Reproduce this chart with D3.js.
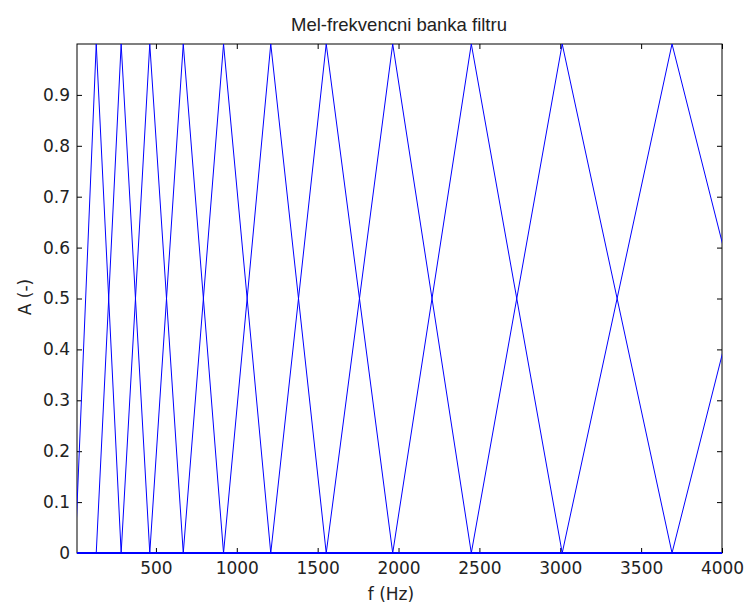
<!doctype html>
<html>
<head>
	<meta charset="utf-8">
	<title>Mel-frekvencni banka filtru</title>
	<style>
		body { margin: 0; background: #fff; }
	</style>
</head>
<body>

<svg width="745" height="606"></svg>
<script src="https://d3js.org/d3.v7.min.js"></script>
<script>
// filter edge / centre frequencies (Hz)
var centers = [0, 131, 285, 462, 669, 918, 1210, 1553, 1964, 2450, 3012, 3691, 4486, 5400];
var xTicks = [500, 1000, 1500, 2000, 2500, 3000, 3500, 4000];
var yTicks = [0, 0.1, 0.2, 0.3, 0.4, 0.5, 0.6, 0.7, 0.8, 0.9];
var xRange = [12, 4000];
var yRange = [0, 1];

var svg = d3.select("svg");
var pLeft = 77, pRight = 722, pTop = 44, pBottom = 553;

var x = d3.scaleLinear().domain(xRange).range([pLeft, pRight]);
var y = d3.scaleLinear().domain(yRange).range([pBottom, pTop]);

// one triangle per filter, zero elsewhere
var filters = [];
for (var i = 1; i < centers.length - 1; i++) {
  filters.push([
    [Math.min(centers[0], xRange[0]), 0],
    [centers[i - 1], 0],
    [centers[i], 1],
    [centers[i + 1], 0],
    [Math.max(centers[centers.length - 1], xRange[1]), 0]
  ]);
}

svg.append("clipPath").attr("id", "plot")
  .append("rect")
  .attr("x", pLeft).attr("y", pTop - 1)
  .attr("width", pRight - pLeft).attr("height", pBottom - pTop + 2);

var line = d3.line()
  .x(function(d){ return x(d[0]); })
  .y(function(d){ return y(d[1]); });

var font = "'DejaVu Sans', sans-serif";

function fmt(d){ return d === 0 ? "0" : d3.format(".1f")(d); }

var gx = svg.append("g")
  .attr("transform", "translate(0," + pBottom + ")")
  .call(d3.axisBottom(x).tickValues(xTicks).tickFormat(d3.format("d")).tickSizeInner(-5).tickSizeOuter(0).tickPadding(9));
var gy = svg.append("g")
  .attr("transform", "translate(" + pLeft + ",0)")
  .call(d3.axisLeft(y).tickValues(yTicks).tickFormat(fmt).tickSizeInner(-5).tickSizeOuter(0).tickPadding(7));
var gt = svg.append("g")
  .attr("transform", "translate(0," + pTop + ")")
  .call(d3.axisTop(x).tickValues(xTicks).tickFormat("").tickSizeInner(-5).tickSizeOuter(0));
var gr = svg.append("g")
  .attr("transform", "translate(" + pRight + ",0)")
  .call(d3.axisRight(y).tickValues(yTicks).tickFormat("").tickSizeInner(-5).tickSizeOuter(0));

[gx, gy, gt, gr].forEach(function(g){
  g.select(".domain").remove();
  g.selectAll("line").attr("stroke", "#000");
  g.selectAll("text")
    .attr("fill", "#222")
    .style("font-family", font)
    .style("font-size", "17px");
});

svg.append("rect")
  .attr("x", pLeft).attr("y", pTop)
  .attr("width", pRight - pLeft).attr("height", pBottom - pTop)
  .attr("fill", "none")
  .attr("stroke", "#000")
  .attr("stroke-width", 1);

svg.append("g")
  .attr("clip-path", "url(#plot)")
  .selectAll("path")
  .data(filters)
  .enter()
  .append("path")
  .attr("d", line)
  .attr("fill", "none")
  .attr("stroke", "#0000ff")
  .attr("stroke-width", 1);

svg.append("text")
  .attr("x", 399).attr("y", 31)
  .attr("text-anchor", "middle")
  .style("font-family", "'Liberation Sans', Arial, sans-serif")
  .style("font-size", "18.5px")
  .attr("fill", "#222")
  .text("Mel-frekvencni banka filtru");

svg.append("text")
  .attr("x", 391).attr("y", 600)
  .attr("text-anchor", "middle")
  .style("font-family", font)
  .style("font-size", "17px")
  .attr("fill", "#222")
  .text("f (Hz)");

svg.append("text")
  .attr("transform", "translate(31,297) rotate(-90)")
  .attr("text-anchor", "middle")
  .style("font-family", font)
  .style("font-size", "17px")
  .attr("fill", "#222")
  .text("A (-)");
</script>
</body>
</html>
